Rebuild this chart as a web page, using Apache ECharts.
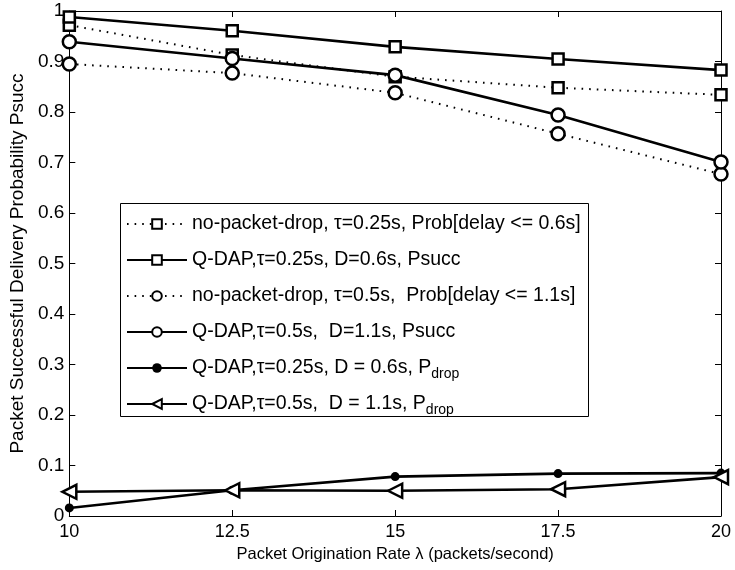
<!DOCTYPE html>
<html><head><meta charset="utf-8">
<script src="https://cdn.jsdelivr.net/npm/echarts@6/dist/echarts.min.js"></script>
<style>html,body{margin:0;padding:0;background:#fff}#c{width:735px;height:570px}</style>
</head><body><div id="c"></div>
<script>
const rates = [10, 12.5, 15, 17.5, 20];
const xTicks = [10, 12.5, 15, 17.5, 20];
const yTicks = [0, 0.1, 0.2, 0.3, 0.4, 0.5, 0.6, 0.7, 0.8, 0.9, 1];
const noDrop025 = [0.972, 0.913, 0.870, 0.848, 0.834];
const qdap025 = [0.988, 0.961, 0.929, 0.905, 0.883];
const noDrop05 = [0.895, 0.877, 0.838, 0.757, 0.677];
const qdap05 = [0.939, 0.906, 0.873, 0.794, 0.701];
const pdrop025 = [0.016, 0.051, 0.078, 0.084, 0.085];
const pdrop05 = [0.048, 0.051, 0.050, 0.053, 0.077];
const names = [
  'no-packet-drop, τ=0.25s, Prob[delay <= 0.6s]',
  'Q-DAP,τ=0.25s, D=0.6s, Psucc',
  'no-packet-drop, τ=0.5s,  Prob[delay <= 1.1s]',
  'Q-DAP,τ=0.5s,  D=1.1s, Psucc',
  'Q-DAP,τ=0.25s, D = 0.6s, Pdrop',
  'Q-DAP,τ=0.5s,  D = 1.1s, Pdrop'
];
const FONT = 'Liberation Sans, Arial, Helvetica, sans-serif';
const pts = v => rates.map((x, i) => [x, v[i]]);
const fmtY = v => (v === 0 ? '0' : v === 1 ? '1' : v.toFixed(1));

function mk(name, data, symbol, size, dotted, filled, rotate) {
  return {
    name, type: 'line', data: pts(data), symbol, symbolSize: size,
    symbolRotate: rotate || 0,
    lineStyle: { color: '#000', width: dotted ? 2 : 2.6, type: dotted ? [1.6, 6] : 'solid' },
    itemStyle: { color: filled ? '#000' : '#fff', borderColor: '#000', borderWidth: filled ? 0 : 2.5 },
    emphasis: { disabled: true }, animation: false, z: 3
  };
}

const chart = echarts.init(document.getElementById('c'), null, { renderer: 'canvas' });
const axisCommon = {
  axisLine: { show: true, onZero: false, lineStyle: { color: '#000', width: 1 } },
  axisTick: { show: true, inside: true, length: 6, lineStyle: { color: '#000' } },
  splitLine: { show: false }
};
chart.setOption({
  backgroundColor: '#fff',
  animation: false,
  textStyle: { fontFamily: FONT },
  grid: { left: 68, right: 14, top: 11, bottom: 54 },
  xAxis: [
    Object.assign({
      type: 'value', min: 10, max: 20, interval: 2.5, position: 'bottom',
      axisLabel: { color: '#000', fontSize: 18, fontFamily: FONT, margin: 7,
        formatter: v => (xTicks.indexOf(v) >= 0 ? String(v) : '') },
      name: 'Packet Origination Rate λ (packets/second)', nameLocation: 'middle', nameGap: 27,
      nameTextStyle: { color: '#000', fontSize: 16.5, fontFamily: FONT }
    }, axisCommon),
    Object.assign({ type: 'value', min: 10, max: 20, interval: 2.5, position: 'top', axisLabel: { show: false } }, axisCommon)
  ],
  yAxis: [
    Object.assign({
      type: 'value', min: 0, max: 1, interval: 0.1, position: 'left',
      axisLabel: { color: '#000', fontSize: 19, fontFamily: FONT, margin: 5,
        formatter: v => { const t = yTicks.find(k => Math.abs(k - v) < 1e-9); return t === undefined ? '' : fmtY(t); } },
      name: 'Packet Successful Delivery Probability Psucc', nameLocation: 'middle', nameGap: 37,
      nameTextStyle: { color: '#000', fontSize: 19, fontFamily: FONT }
    }, axisCommon),
    Object.assign({ type: 'value', min: 0, max: 1, interval: 0.1, position: 'right', axisLabel: { show: false } }, axisCommon)
  ],
  legend: {
    orient: 'vertical', left: 126, top: 211, itemWidth: 60, itemHeight: 12, itemGap: 10,
    selectedMode: false, padding: 0,
    textStyle: {
      color: '#000', fontSize: 19.5, fontFamily: FONT, lineHeight: 26,
      rich: {
        n: { fontSize: 19.5, fontFamily: FONT, color: '#000', lineHeight: 26 },
        s: { fontSize: 14, fontFamily: FONT, color: '#000', lineHeight: 16, padding: [10, 0, 0, 0], verticalAlign: 'bottom' }
      }
    },
    formatter: name => name.endsWith('Pdrop') ? '{n|' + name.slice(0, -4) + '}{s|drop}' : name,
    data: names
  },
  graphic: [{
    type: 'rect', left: 120, top: 203, z: -1, silent: true,
    shape: { width: 468, height: 213 },
    style: { fill: '#fff', stroke: '#000', lineWidth: 1 }
  }],
  series: [
    mk(names[0], noDrop025, 'rect', 11, true, false),
    mk(names[1], qdap025, 'rect', 11, false, false),
    mk(names[2], noDrop05, 'circle', 13, true, false),
    mk(names[3], qdap05, 'circle', 13, false, false),
    mk(names[4], pdrop025, 'circle', 9, false, true),
    mk(names[5], pdrop05, 'triangle', 14, false, false, 90)
  ]
});
</script></body></html>
